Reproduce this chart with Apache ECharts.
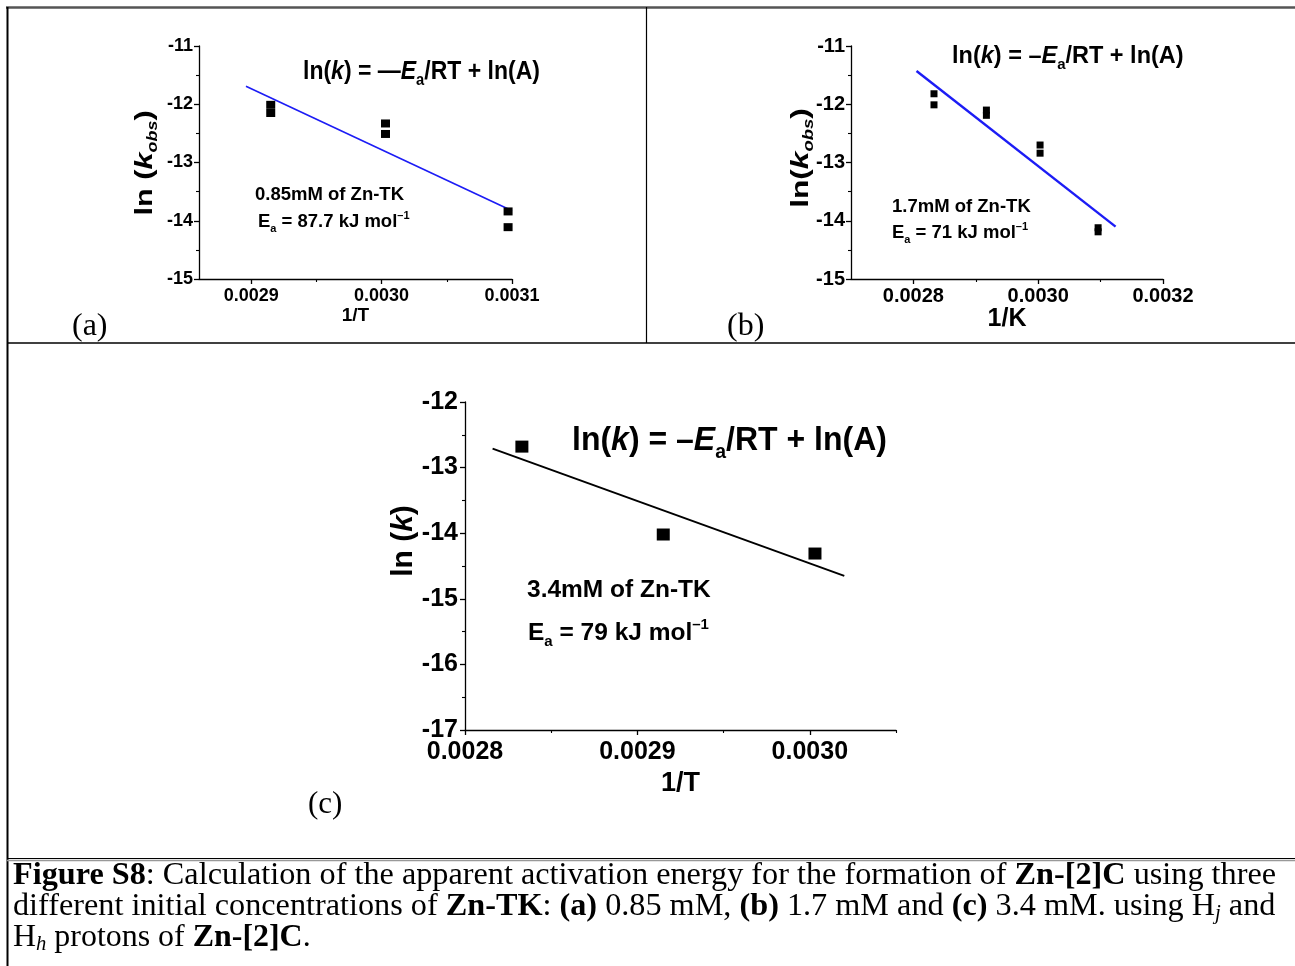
<!DOCTYPE html>
<html>
<head>
<meta charset="utf-8">
<script src="https://cdn.jsdelivr.net/npm/echarts@6/dist/echarts.min.js"></script>
<style>
  html, body { margin: 0; padding: 0; background: #ffffff; }
  #chart { width: 1295px; height: 966px; }
</style>
</head>
<body>
<div id="chart"></div>
<script>
// ---- (a) 0.85 mM Zn-TK : ln(k_obs) vs 1/T ----
const invT_a = [0.002915, 0.002915, 0.003003, 0.003003, 0.003097, 0.003097];
const lnK_a = [-12.01, -12.15, -12.33, -12.51, -13.84, -14.11];
const fitX_a = [0.002896, 0.0031];
const fitY_a = [-11.69, -13.83];
const xTicks_a = [0.0029, 0.0030, 0.0031];
const xMinor_a = [0.00295, 0.00305];

// ---- (b) 1.7 mM Zn-TK ----
const invT_b = [0.002833, 0.002833, 0.002917, 0.002917, 0.003003, 0.003003, 0.003096, 0.003096];
const lnK_b = [-11.82, -12.01, -12.10, -12.19, -12.70, -12.84, -14.12, -14.19];
const fitX_b = [0.002805, 0.003124];
const fitY_b = [-11.43, -14.10];
const xTicks_b = [0.0028, 0.0030, 0.0032];
const xMinor_b = [0.0029, 0.0031];

// ---- (c) 3.4 mM Zn-TK ----
const invT_c = [0.002833, 0.002915, 0.003003];
const lnK_c = [-12.68, -14.02, -14.31];
const fitX_c = [0.002816, 0.00302];
const fitY_c = [-12.71, -14.65];
const xTicks_c = [0.0028, 0.0029, 0.0030];
const xMinor_c = [0.00285, 0.00295, 0.00305];

const SANS = '"Liberation Sans", Arial, Helvetica, sans-serif';
const SERIF = '"Liberation Serif", "Times New Roman", Times, serif';

const zip = (xs, ys) => xs.map((x, i) => [x, ys[i]]);

// rich-text styles for bold Arial text with italic symbols, subscripts and superscripts
function sansRich(size, subRatio) {
  const lh = Math.round(size * 1.3);
  const sub = Math.round(size * (subRatio || 0.62));
  return {
    n: { fontFamily: SANS, fontWeight: 'bold', fontSize: size, lineHeight: lh, color: '#000' },
    i: { fontFamily: SANS, fontWeight: 'bold', fontStyle: 'italic', fontSize: size, lineHeight: lh, color: '#000' },
    s: { fontFamily: SANS, fontWeight: 'bold', fontSize: sub, lineHeight: sub, verticalAlign: 'bottom', color: '#000' },
    si: { fontFamily: SANS, fontWeight: 'bold', fontStyle: 'italic', fontSize: sub, lineHeight: sub, verticalAlign: 'bottom', color: '#000' },
    p: { fontFamily: SANS, fontWeight: 'bold', fontSize: sub, lineHeight: sub, verticalAlign: 'top', color: '#000' }
  };
}

function serifRich(size, lh) {
  const sub = Math.round(size * 0.65);
  return {
    r: { fontFamily: SERIF, fontSize: size, lineHeight: lh, color: '#000' },
    b: { fontFamily: SERIF, fontWeight: 'bold', fontSize: size, lineHeight: lh, color: '#000' },
    si: { fontFamily: SERIF, fontStyle: 'italic', fontSize: sub, lineHeight: Math.round(lh * 0.6), verticalAlign: 'bottom', color: '#000' }
  };
}

const fmtX = v => v.toFixed(4);

function xMajor(gridIndex, min, max, ticks, labelSize, margin, name, nameGap, nameSize) {
  return {
    type: 'value', gridIndex, min, max, position: 'bottom',
    name, nameLocation: 'middle', nameGap,
    nameTextStyle: { fontFamily: SANS, fontWeight: 'bold', fontSize: nameSize, color: '#000' },
    axisLine: { show: true, onZero: false, lineStyle: { color: '#000', width: 1.3 } },
    axisTick: { show: true, inside: false, length: 5, customValues: ticks, lineStyle: { color: '#000', width: 1.3 } },
    axisLabel: { show: true, customValues: ticks, formatter: fmtX, margin,
      fontFamily: SANS, fontWeight: 'bold', fontSize: labelSize, color: '#000' },
    splitLine: { show: false }
  };
}

function xMinorAxis(gridIndex, min, max, ticks) {
  return {
    type: 'value', gridIndex, min, max, position: 'bottom',
    axisLine: { show: false, onZero: false },
    axisTick: { show: true, inside: false, length: 3, customValues: ticks, lineStyle: { color: '#000', width: 1.1 } },
    axisLabel: { show: false },
    splitLine: { show: false }
  };
}

function yAxisCfg(gridIndex, min, max, labelSize, margin) {
  return {
    type: 'value', gridIndex, min, max, interval: 1,
    axisLine: { show: true, onZero: false, lineStyle: { color: '#000', width: 1.3 } },
    axisTick: { show: true, inside: false, length: 5, lineStyle: { color: '#000', width: 1.3 } },
    minorTick: { show: true, splitNumber: 2, length: 3, lineStyle: { color: '#000', width: 1.1 } },
    axisLabel: { margin, fontFamily: SANS, fontWeight: 'bold', fontSize: labelSize, color: '#000' },
    splitLine: { show: false }
  };
}

function scatter(xi, yi, xs, ys, size) {
  return {
    type: 'scatter', xAxisIndex: xi, yAxisIndex: yi, data: zip(xs, ys),
    symbol: 'rect', symbolSize: size, itemStyle: { color: '#000', opacity: 1 }, silent: true, z: 4
  };
}

function fitLine(xi, yi, xs, ys, color, width) {
  return {
    type: 'line', xAxisIndex: xi, yAxisIndex: yi, data: zip(xs, ys),
    symbol: 'none', showSymbol: false, lineStyle: { color, width, opacity: 1 }, silent: true, z: 3
  };
}

function txt(x, y, text, rich, scaleX) {
  return { type: 'text', x, y, scaleX: scaleX || 1, silent: true,
    style: { text, rich, align: 'left', verticalAlign: 'middle' } };
}

// vertical axis title, reading bottom to top, centred on (x, y)
function vtitle(x, y, text, rich, stretch) {
  return { type: 'text', x, y, rotation: Math.PI / 2, scaleX: stretch || 1, silent: true,
    style: { text, rich, align: 'center', verticalAlign: 'middle' } };
}

function hline(x1, x2, y, color, w) {
  return { type: 'line', silent: true, shape: { x1, y1: y, x2, y2: y }, style: { stroke: color, lineWidth: w } };
}
function vline(x, y1, y2, color, w) {
  return { type: 'line', silent: true, shape: { x1: x, y1, x2: x, y2 }, style: { stroke: color, lineWidth: w } };
}

const chart = echarts.init(document.getElementById('chart'), null, { renderer: 'canvas' });

const eqA = '{n|ln(}{i|k}{n|) = \u2014}{i|E}{s|a}{n|/RT + ln(A)}';
const eqBC = '{n|ln(}{i|k}{n|) = \u2013}{i|E}{s|a}{n|/RT + ln(A)}';

const captionLines = [
  '{b|Figure S8}{r|: Calculation of the apparent activation energy for the formation of }{b|Zn-[2]C}{r| using three}',
  '{r|different initial concentrations of }{b|Zn-TK}{r|: }{b|(a)}{r| 0.85 mM, }{b|(b)}{r| 1.7 mM and }{b|(c)}{r| 3.4 mM. using H}{si|j}{r| and}',
  '{r|H}{si|h}{r| protons of }{b|Zn-[2]C}{r|.}'
];
const capRich = serifRich(31, 34);

chart.setOption({
  animation: false,
  backgroundColor: '#ffffff',
  grid: [
    { left: 199, top: 46, width: 313, height: 233, containLabel: false, outerBoundsMode: 'none' },
    { left: 851, top: 46, width: 312, height: 233, containLabel: false, outerBoundsMode: 'none' },
    { left: 465, top: 402, width: 431, height: 328, containLabel: false, outerBoundsMode: 'none' }
  ],
  xAxis: [
    xMajor(0, 0.00286, 0.0031, xTicks_a, 18, 8, '1/T', 25, 19),
    xMinorAxis(0, 0.00286, 0.0031, xMinor_a),
    xMajor(1, 0.0027, 0.0032, xTicks_b, 20, 7, '1/K', 27, 25),
    xMinorAxis(1, 0.0027, 0.0032, xMinor_b),
    xMajor(2, 0.0028, 0.00305, xTicks_c, 25, 10, '1/T', 40, 27),
    xMinorAxis(2, 0.0028, 0.00305, xMinor_c)
  ],
  yAxis: [
    yAxisCfg(0, -15, -11, 18, 6),
    yAxisCfg(1, -15, -11, 20, 6),
    yAxisCfg(2, -17, -12, 25, 7)
  ],
  series: [
    fitLine(0, 0, fitX_a, fitY_a, '#1c1cf5', 1.6),
    scatter(0, 0, invT_a, lnK_a, [9, 8]),
    fitLine(2, 1, fitX_b, fitY_b, '#1c1cf5', 2.4),
    scatter(2, 1, invT_b, lnK_b, [7, 7]),
    fitLine(4, 2, fitX_c, fitY_c, '#000000', 2),
    scatter(4, 2, invT_c, lnK_c, [13, 12])
  ],
  graphic: [
    // table frame
    hline(6, 1295, 7.5, '#555555', 2.5),
    vline(7.5, 7, 966, '#000000', 2),
    hline(7, 1295, 343, '#000000', 1.5),
    vline(646.5, 7, 343, '#000000', 1.2),
    hline(7, 1295, 858.5, '#000000', 1.2),
    hline(7, 1295, 860.5, '#999999', 1.5),

    // vertical axis titles
    vtitle(145, 163, '{n|ln (}{i|k}{si|obs}{n|)}', sansRich(24, 0.6), 1.28),
    vtitle(801, 158, '{n|ln(}{i|k}{si|obs}{n|)}', sansRich(24, 0.6), 1.32),
    vtitle(404, 541, '{n|ln (}{i|k}{n|)}', sansRich(30)),

    // panel (a) annotations
    txt(303, 72, eqA, sansRich(25), 0.92),
    txt(255, 195, '{n|0.85mM of Zn-TK}', sansRich(18.5)),
    txt(258, 222, '{n|E}{s|a}{n| = 87.7 kJ mol}{p|\u20131}', sansRich(18.5)),

    // panel (b) annotations
    txt(952, 57, eqBC, sansRich(23.5)),
    txt(892, 207, '{n|1.7mM of Zn-TK}', sansRich(18.5)),
    txt(892, 233, '{n|E}{s|a}{n| = 71 kJ mol}{p|\u20131}', sansRich(18.5)),

    // panel (c) annotations
    txt(572, 441, eqBC, sansRich(33), 0.97),
    txt(527, 590, '{n|3.4mM of Zn-TK}', sansRich(24.5)),
    txt(528, 633, '{n|E}{s|a}{n| = 79 kJ mol}{p|\u20131}', sansRich(24.5)),

    // panel letters
    txt(72, 327, '{r|(a)}', serifRich(32, 36)),
    txt(727, 327, '{r|(b)}', serifRich(32, 36)),
    txt(308, 805, '{r|(c)}', serifRich(31, 36)),

    // figure caption (first two lines run to the right margin)
    txt(13, 876, captionLines[0], capRich, 1.04),
    txt(13, 907, captionLines[1], capRich, 1.04),
    txt(13, 938, captionLines[2], capRich, 1.03)
  ]
});
</script>
</body>
</html>
